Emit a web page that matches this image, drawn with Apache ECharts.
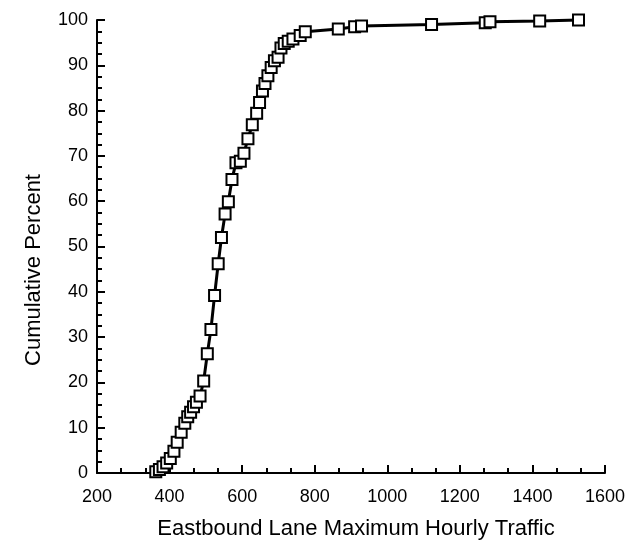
<!DOCTYPE html>
<html>
<head>
<meta charset="utf-8">
<script src="https://cdn.jsdelivr.net/npm/echarts@6/dist/echarts.min.js"></script>
<style>html,body{margin:0;padding:0;background:#fff;}#c{width:634px;height:546px;}</style>
</head>
<body>
<div id="c"></div>
<script>
const traffic = [362,372,382,392,402,412,421,432,442,450,458,466,474,484,494,504,514,524,534,543,553,562,572,583,595,605,616,628,640,648,656,663,671,680,689,699,707,716,727,740,760,774,865,910,929,1122,1270,1283,1420,1527];
const cumPercent = [0.3,0.8,1.4,2.2,3.2,4.8,6.8,9.0,11.0,12.4,13.4,14.6,15.6,17.0,20.3,26.3,31.7,39.2,46.2,52.0,57.2,59.9,64.8,68.5,68.8,70.6,73.8,76.9,79.4,81.8,84.3,86.0,87.7,89.5,91.0,91.8,93.8,94.8,95.3,95.8,96.6,97.4,98.0,98.5,98.7,99.0,99.4,99.6,99.8,100];
const xTicks = [200,400,600,800,1000,1200,1400,1600];
const yTicks = [0,10,20,30,40,50,60,70,80,90,100];
const xTitle = 'Eastbound Lane Maximum Hourly Traffic';
const yTitle = 'Cumulative Percent';

const chart = echarts.init(document.getElementById('c'), null, {renderer:'canvas'});
const font = 'Liberation Sans, Arial, Helvetica, sans-serif';
chart.setOption({
  backgroundColor:'#fff',
  animation:false,
  grid:{left:97,right:29,top:20,bottom:73,containLabel:false,outerBoundsMode:'none'},
  graphic:[{
    type:'text', x:34, y:270, rotation:Math.PI/2,
    style:{text:yTitle, fill:'#000', font:'22px ' + font, align:'center', verticalAlign:'middle'}
  }],
  xAxis:{
    type:'value', min:xTicks[0], max:xTicks[xTicks.length-1], interval:200,
    name:xTitle, nameLocation:'middle', nameGap:45,
    nameTextStyle:{color:'#000',fontSize:22,fontFamily:font,padding:[0,0,0,10]},
    axisLine:{show:true,onZero:false,lineStyle:{color:'#000',width:2}},
    axisTick:{show:true,inside:true,length:8,lineStyle:{color:'#000',width:2}},
    minorTick:{show:true,splitNumber:3,length:5,lineStyle:{color:'#000',width:2}},
    axisLabel:{color:'#000',fontSize:18,fontFamily:font,margin:15,formatter:v=>String(v)},
    splitLine:{show:false}
  },
  yAxis:{
    type:'value', min:yTicks[0], max:yTicks[yTicks.length-1], interval:10,
    axisLine:{show:true,onZero:false,lineStyle:{color:'#000',width:2}},
    axisTick:{show:true,inside:true,length:8,lineStyle:{color:'#000',width:2}},
    minorTick:{show:true,splitNumber:4,length:5,lineStyle:{color:'#000',width:2}},
    axisLabel:{color:'#000',fontSize:18,fontFamily:font,margin:9,formatter:v=>String(v)},
    splitLine:{show:false}
  },
  series:[{
    type:'line',
    data:traffic.map((v,i)=>[v,cumPercent[i]]),
    symbol:'rect', symbolSize:11,
    itemStyle:{color:'#fff',borderColor:'#000',borderWidth:2},
    lineStyle:{color:'#000',width:3},
    clip:false
  }]
});
</script>
</body>
</html>
